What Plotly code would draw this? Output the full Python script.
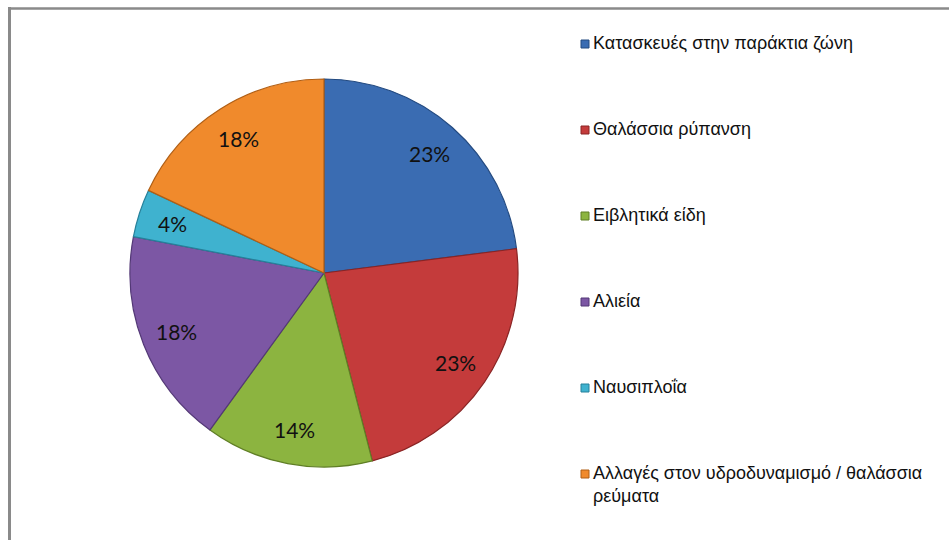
import math
import plotly.graph_objects as go

# Share of pressures on the coastal zone (percent)
categories = [
    "Κατασκευές στην παράκτια ζώνη",
    "Θαλάσσια ρύπανση",
    "Ειβλητικά είδη",
    "Αλιεία",
    "Ναυσιπλοΐα",
    "Αλλαγές στον υδροδυναμισμό / θαλάσσια<br>ρεύματα",
]
shares = [23, 23, 14, 18, 4, 18]
colors = ["#3a6cb2", "#c43b3b", "#8cb440", "#7c57a4", "#3fb2cf", "#f08a2c"]
edge_colors = ["#234a80", "#8a2424", "#5f7e25", "#533876", "#26809a", "#b05e14"]

W, H = 949, 540
# pie placement in pixels
CX, CY, R = 324, 273, 194

fig = go.Figure()
fig.add_trace(go.Pie(
    labels=[c.replace("<br>", " ") for c in categories],
    values=shares,
    sort=False,
    direction="clockwise",
    rotation=0,
    marker=dict(colors=colors, line=dict(color=edge_colors, width=1.2)),
    textinfo="none",
    showlegend=False,
    hoverinfo="label+percent",
    domain=dict(x=[(CX - R) / W, (CX + R) / W], y=[1 - (CY + R) / H, 1 - (CY - R) / H]),
))

shapes = [
    # frame: left and top edges
    dict(type="line", xref="paper", yref="paper",
         x0=9.5 / W, x1=9.5 / W, y0=0, y1=1 - 7 / H,
         line=dict(color="#8a8a8a", width=3)),
    dict(type="line", xref="paper", yref="paper",
         x0=8 / W, x1=1, y0=1 - 8.5 / H, y1=1 - 8.5 / H,
         line=dict(color="#8a8a8a", width=2.5)),
]
annotations = []

# percentage labels placed on each slice's bisector
total = sum(shares)
cum = 0
for v in shares:
    mid = (cum + v / 2) / total * 2 * math.pi
    cum += v
    px = CX + 0.82 * R * math.sin(mid)
    py = CY - 0.82 * R * math.cos(mid)
    annotations.append(dict(
        xref="paper", yref="paper", x=px / W, y=1 - py / H,
        xanchor="center", yanchor="middle", showarrow=False,
        text=f"{round(v / total * 100)}%",
        font=dict(family="Lato, Carlito, sans-serif", size=21, color="#111111"),
    ))

# hand-built legend on the right
for i, (name, col, edge) in enumerate(zip(categories, colors, edge_colors)):
    cy = 43 + 86 * i
    shapes.append(dict(
        type="rect", xref="paper", yref="paper",
        x0=581 / W, x1=589 / W, y0=1 - (cy + 5) / H, y1=1 - (cy - 3) / H,
        fillcolor=col, line=dict(color=edge, width=1),
    ))
    annotations.append(dict(
        xref="paper", yref="paper", x=591 / W, y=1 - (cy - 12) / H,
        xanchor="left", yanchor="top", align="left", showarrow=False,
        text=name,
        font=dict(family="Liberation Sans, Arial, sans-serif", size=18, color="#111111"),
    ))

fig.update_layout(
    width=W, height=H,
    margin=dict(l=0, r=0, t=0, b=0),
    paper_bgcolor="white",
    plot_bgcolor="white",
    shapes=shapes,
    annotations=annotations,
)

fig.write_html("out.html")
